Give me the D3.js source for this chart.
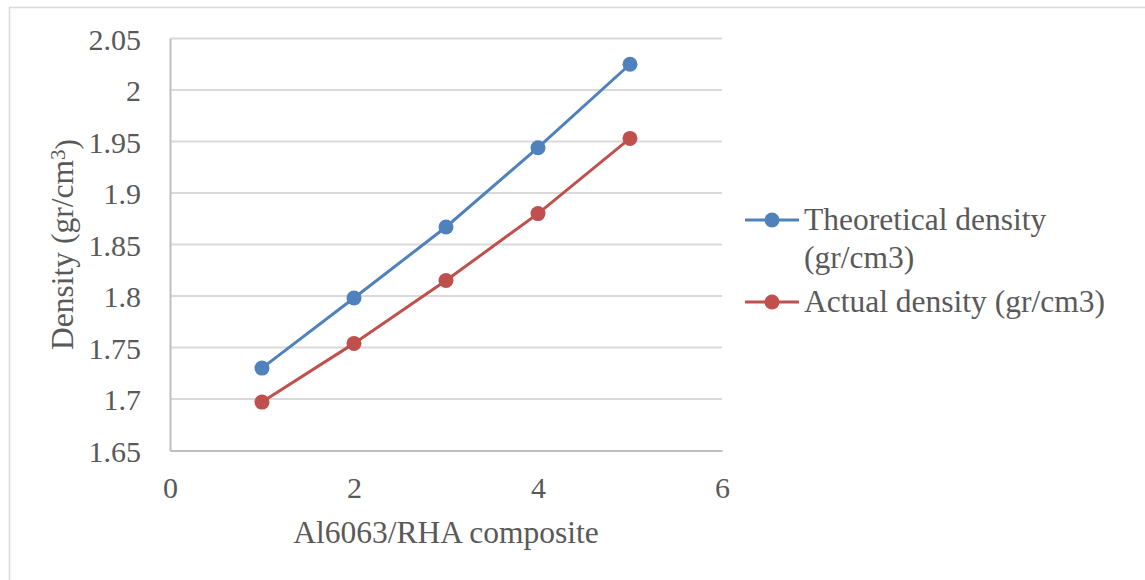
<!DOCTYPE html>
<html>
<head>
<meta charset="utf-8">
<script src="https://cdn.jsdelivr.net/npm/d3@7"></script>
<style>
  body { margin: 0; background: #fff; }
  text { font-family: "Liberation Serif", "Times New Roman", serif; fill: #595959; }
</style>
</head>
<body>
<script>
// values
var composite = [1, 2, 3, 4, 5];
var theoretical = [1.730, 1.798, 1.867, 1.944, 2.025];
var actual = [1.697, 1.754, 1.815, 1.880, 1.953];
var yTicks = [1.65, 1.7, 1.75, 1.8, 1.85, 1.9, 1.95, 2, 2.05];
var xTicks = [0, 2, 4, 6];

var seriesList = [
  { name: "Theoretical density", name2: "(gr/cm3)", values: theoretical, color: "#4f81bd" },
  { name: "Actual density (gr/cm3)", values: actual, color: "#c0504d" }
];

var width = 1145, height = 580;
var plot = { left: 170, right: 722, top: 38.5, bottom: 450.5 };

var svg = d3.select("body").append("svg")
    .attr("width", width)
    .attr("height", height);

// outer chart border (only left/top visible in the picture)
svg.append("path")
    .attr("d", "M9.5,580 V7.5 H1145")
    .style("fill", "none")
    .style("stroke", "#d9d9d9")
    .style("stroke-width", 1.5);

var x = d3.scaleLinear().domain([0, 6]).range([plot.left, plot.right]);
var y = d3.scaleLinear().domain([1.65, 2.05]).range([plot.bottom, plot.top]);

// gridlines
svg.append("g")
    .selectAll("line")
    .data(yTicks.slice(1))
    .enter()
    .append("line")
      .attr("x1", plot.left)
      .attr("x2", plot.right)
      .attr("y1", function(d) { return y(d); })
      .attr("y2", function(d) { return y(d); })
      .style("stroke", "#d9d9d9")
      .style("stroke-width", 2);

// axes
var yAxis = svg.append("g")
    .attr("transform", "translate(" + plot.left + ",0)")
    .call(d3.axisLeft(y).tickValues(yTicks).tickSize(0).tickPadding(29)
      .tickFormat(function(d) { return d3.format("")(+d.toFixed(2)); }));
yAxis.select(".domain").style("stroke", "#bfbfbf").style("stroke-width", 2);
yAxis.selectAll("text")
    .style("font-size", "30px")
    .style("font-family", "'Liberation Serif', serif")
    .attr("fill", "#595959")
    .attr("dy", "0.35em");

var xAxis = svg.append("g")
    .attr("transform", "translate(0," + plot.bottom + ")")
    .call(d3.axisBottom(x).tickValues(xTicks).tickSize(0).tickPadding(26).tickFormat(d3.format("d")));
xAxis.select(".domain").style("stroke", "#bfbfbf").style("stroke-width", 2);
xAxis.selectAll("text")
    .style("font-size", "30px")
    .style("font-family", "'Liberation Serif', serif")
    .attr("fill", "#595959");

// axis titles
svg.append("text")
    .attr("x", (plot.left + plot.right) / 2)
    .attr("y", 543)
    .attr("text-anchor", "middle")
    .style("font-size", "31.5px")
    .text("Al6063/RHA composite");

var yTitle = svg.append("text")
    .attr("transform", "translate(73," + ((plot.top + plot.bottom) / 2) + ") rotate(-90)")
    .attr("text-anchor", "middle")
    .style("font-size", "31.5px");
yTitle.append("tspan").text("Density (gr/cm");
yTitle.append("tspan").attr("dy", "-0.4em").style("font-size", "21px").text("3");
yTitle.append("tspan").attr("dy", "0.4em").text(")");

// lines + markers
var line = d3.line()
    .x(function(d, i) { return x(composite[i]); })
    .y(function(d) { return y(d); });

seriesList.forEach(function(s) {
  svg.append("path")
      .attr("d", line(s.values))
      .style("fill", "none")
      .style("stroke", s.color)
      .style("stroke-width", 3);
  svg.append("g")
      .selectAll("circle")
      .data(s.values)
      .enter()
      .append("circle")
        .attr("cx", function(d, i) { return x(composite[i]); })
        .attr("cy", function(d) { return y(d); })
        .attr("r", 7.5)
        .style("fill", s.color);
});

// legend
var legendY = [220, 302];
seriesList.forEach(function(s, i) {
  var g = svg.append("g").attr("transform", "translate(0," + legendY[i] + ")");
  g.append("line")
      .attr("x1", 745).attr("x2", 799)
      .style("stroke", s.color)
      .style("stroke-width", 3);
  g.append("circle")
      .attr("cx", 772).attr("r", 7.5)
      .style("fill", s.color);
  g.append("text")
      .attr("x", 804).attr("y", 10)
      .style("font-size", "31.5px")
      .text(s.name);
  if (s.name2) {
    g.append("text")
        .attr("x", 804).attr("y", 48)
        .style("font-size", "31.5px")
        .text(s.name2);
  }
});
</script>
</body>
</html>
